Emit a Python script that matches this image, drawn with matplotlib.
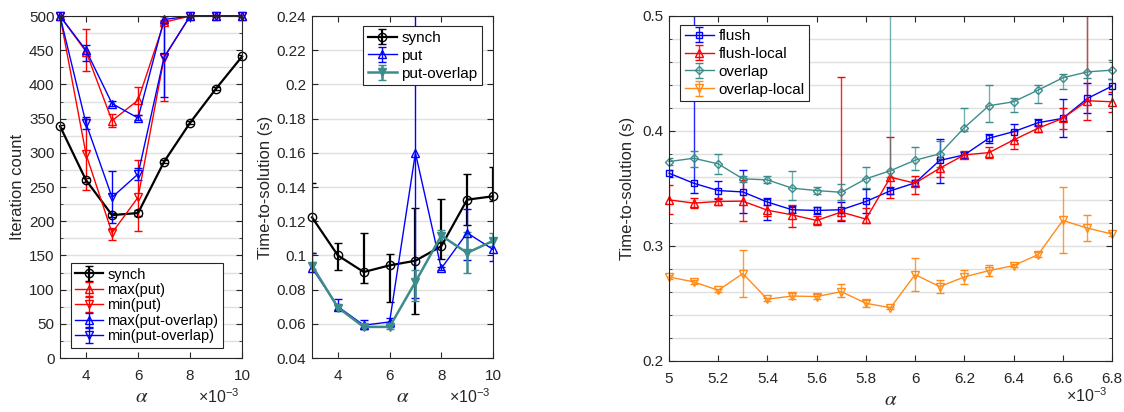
import matplotlib
matplotlib.use("Agg")
import matplotlib.pyplot as plt
import numpy as np
from matplotlib.ticker import MultipleLocator

plt.rcParams['font.family'] = ['Liberation Sans', 'DejaVu Sans']
plt.rcParams['mathtext.fontset'] = 'stix'

# ---------------- data: left panel (iteration count) ----------------
alpha_it = [3, 4, 5, 6, 7, 8, 9, 10]

it_synch = [339, 260, 209, 212, 287, 344, 394, 441]
it_synch_lo = [337, 257, 206, 208, 285, 342, 392, 439]
it_synch_hi = [341, 263, 212, 216, 289, 346, 396, 443]

it_max_put = [500, 448, 347, 377, 491, 500, 500, 500]
it_max_put_lo = [500, 419, 338, 355, 489, 500, 500, 500]
it_max_put_hi = [500, 481, 357, 396, 494, 500, 500, 500]

it_min_put = [500, 298, 183, 235, 439, 500, 500, 500]
it_min_put_lo = [500, 246, 172, 186, 376, 500, 500, 500]
it_min_put_hi = [500, 350, 190, 289, 500, 500, 500, 500]

it_max_ov = [500, 450, 372, 351, 495, 500, 500, 500]
it_max_ov_lo = [500, 435, 368, 348, 493, 500, 500, 500]
it_max_ov_hi = [500, 458, 376, 355, 500, 500, 500, 500]

it_min_ov = [500, 343, 235, 269, 440, 500, 500, 500]
it_min_ov_lo = [500, 335, 198, 261, 382, 500, 500, 500]
it_min_ov_hi = [500, 352, 273, 278, 500, 500, 500, 500]

# ---------------- data: middle panel (time, small alpha) ----------------
t_synch = [0.1223, 0.1000, 0.0903, 0.0942, 0.0969, 0.1054, 0.1326, 0.1346]
t_synch_lo = [0.1015, 0.0916, 0.0838, 0.0728, 0.0660, 0.0977, 0.1180, 0.1316]
t_synch_hi = [0.1423, 0.1074, 0.1129, 0.1008, 0.1280, 0.1330, 0.1476, 0.1520]

t_put = [0.0926, 0.0701, 0.0592, 0.0611, 0.1600, 0.0924, 0.1132, 0.1035]
t_put_lo = [0.0904, 0.0683, 0.0569, 0.0579, 0.0750, 0.0915, 0.0976, 0.0965]
t_put_hi = [0.1016, 0.0745, 0.0623, 0.0637, 0.2600, 0.0935, 0.1272, 0.1080]

t_ov = [0.0940, 0.0695, 0.0582, 0.0582, 0.0845, 0.1116, 0.1015, 0.1085]
t_ov_lo = [0.0920, 0.0680, 0.0570, 0.0570, 0.0733, 0.1080, 0.0899, 0.1054]
t_ov_hi = [0.0960, 0.0710, 0.0595, 0.0595, 0.0915, 0.1150, 0.1136, 0.1133]

# ---------------- data: right panel (time, fine alpha) ----------------
alpha_r = [5.0, 5.1, 5.2, 5.3, 5.4, 5.5, 5.6, 5.7, 5.8, 5.9,
           6.0, 6.1, 6.2, 6.3, 6.4, 6.5, 6.6, 6.7, 6.8]

flush = [0.3633, 0.3546, 0.3482, 0.3470, 0.3382, 0.3315, 0.3309, 0.3315, 0.3387, 0.3480,
         0.3549, 0.3744, 0.3792, 0.3937, 0.3994, 0.4072, 0.4110, 0.4283, 0.4390]
flush_lo = [0.3600, 0.3460, 0.3408, 0.3286, 0.3229, 0.3285, 0.3280, 0.3220, 0.3286, 0.3450,
            0.3520, 0.3550, 0.3765, 0.3897, 0.3920, 0.4045, 0.3950, 0.4159, 0.4325]
flush_hi = [0.3660, 0.6200, 0.3567, 0.3660, 0.3420, 0.3345, 0.3340, 0.3380, 0.3497, 0.3510,
            0.3578, 0.3930, 0.3820, 0.3977, 0.4065, 0.4100, 0.4275, 0.4419, 0.4455]

flush_local = [0.3401, 0.3373, 0.3387, 0.3390, 0.3311, 0.3271, 0.3222, 0.3295, 0.3234, 0.3598,
               0.3546, 0.3676, 0.3792, 0.3812, 0.3922, 0.4024, 0.4110, 0.4263, 0.4254]
flush_local_lo = [0.3276, 0.3333, 0.3357, 0.3214, 0.3260, 0.3165, 0.3180, 0.3229, 0.3200, 0.3416,
                  0.3453, 0.3600, 0.3762, 0.3762, 0.3847, 0.3994, 0.4015, 0.4096, 0.4168]
flush_local_hi = [0.3526, 0.3413, 0.3417, 0.3570, 0.3360, 0.3359, 0.3260, 0.4470, 0.3330, 0.3947,
                  0.3612, 0.3755, 0.3822, 0.3862, 0.3997, 0.4054, 0.4197, 0.6200, 0.4340]

overlap = [0.3734, 0.3763, 0.3714, 0.3584, 0.3575, 0.3503, 0.3482, 0.3467, 0.3584, 0.3655,
           0.3746, 0.3801, 0.4029, 0.4220, 0.4254, 0.4356, 0.4462, 0.4514, 0.4529]
overlap_lo = [0.3700, 0.3690, 0.3627, 0.3555, 0.3545, 0.3400, 0.3455, 0.3398, 0.3500, 0.3600,
              0.3660, 0.3688, 0.3997, 0.4080, 0.4168, 0.4245, 0.4369, 0.4460, 0.4450]
overlap_hi = [0.3768, 0.3830, 0.3800, 0.3610, 0.3605, 0.3654, 0.3510, 0.3538, 0.3690, 0.6200,
              0.3865, 0.3913, 0.4203, 0.4400, 0.4285, 0.4398, 0.4493, 0.6200, 0.4616]

overlap_local = [0.2731, 0.2688, 0.2615, 0.2760, 0.2537, 0.2565, 0.2560, 0.2603, 0.2502, 0.2463,
                 0.2751, 0.2647, 0.2731, 0.2786, 0.2829, 0.2925, 0.3222, 0.3156, 0.3104]
overlap_local_lo = [0.2716, 0.2673, 0.2600, 0.2555, 0.2522, 0.2535, 0.2535, 0.2554, 0.2472, 0.2455,
                    0.2607, 0.2587, 0.2673, 0.2741, 0.2814, 0.2905, 0.2939, 0.3045, 0.3089]
overlap_local_hi = [0.2746, 0.2703, 0.2630, 0.2964, 0.2552, 0.2595, 0.2585, 0.2666, 0.2532, 0.2471,
                    0.2896, 0.2705, 0.2793, 0.2831, 0.2844, 0.2945, 0.3512, 0.3268, 0.3119]

TEAL = '#3d8c8c'
ORANGE = '#ff8c1a'
GRID = '#e0e0e0'
AX = '#262626'


def yerr(y, lo, hi):
    y = np.array(y)
    return [y - np.array(lo), np.array(hi) - y]


def eb(ax, x, y, lo, hi, color, marker, label, lw=1.0, ms=6, fill=False, alpha=1.0):
    c = ax.errorbar(x, y, yerr=yerr(y, lo, hi), color=color, marker=marker,
                    markersize=ms, markerfacecolor=(color if fill else 'none'),
                    markeredgecolor=color, markeredgewidth=1.0, linewidth=lw,
                    elinewidth=lw, capsize=3, capthick=lw, label=label)
    c[0].set_clip_on(False)
    for part in c[2]:
        part.set_alpha(alpha)
    return c


def style(ax):
    for s in ax.spines.values():
        s.set_color(AX)
        s.set_linewidth(0.8)
    ax.tick_params(which='both', direction='in', top=True, right=True,
                   colors=AX, labelsize=11, labelcolor=AX)
    ax.tick_params(axis='x', which='major', pad=8)
    ax.tick_params(axis='y', which='major', pad=4)
    ax.tick_params(which='major', length=4)
    ax.tick_params(which='minor', length=2.5)
    ax.set_axisbelow(True)


def legend(ax, spacing, size=11, **kw):
    leg = ax.legend(fontsize=size, frameon=True, fancybox=False, edgecolor=AX,
                    framealpha=1, handlelength=1.9, borderpad=0.3,
                    labelspacing=spacing, handletextpad=0.3, borderaxespad=0, **kw)
    leg.get_frame().set_linewidth(0.8)
    return leg


def offset_label(ax, x=0.985):
    ax.text(x, -0.132, r'$\mathregular{\times10^{-3}}$', transform=ax.transAxes,
            ha='right', va='baseline', fontsize=11.5, color=AX)


fig = plt.figure(figsize=(11.24, 4.12), dpi=100)

# ---------------- left ----------------
ax1 = fig.add_axes([0.0534, 0.131, 0.162, 0.830])
eb(ax1, alpha_it, it_synch, it_synch_lo, it_synch_hi, 'k', 'o', 'synch', lw=1.6)
eb(ax1, alpha_it, it_max_put, it_max_put_lo, it_max_put_hi, 'r', '^', 'max(put)')
eb(ax1, alpha_it, it_min_put, it_min_put_lo, it_min_put_hi, 'r', 'v', 'min(put)')
eb(ax1, alpha_it, it_max_ov, it_max_ov_lo, it_max_ov_hi, 'b', '^', 'max(put-overlap)')
eb(ax1, alpha_it, it_min_ov, it_min_ov_lo, it_min_ov_hi, 'b', 'v', 'min(put-overlap)')
ax1.set_xlim(3, 10)
ax1.set_ylim(0, 500)
ax1.set_xticks([4, 6, 8, 10])
ax1.yaxis.set_major_locator(MultipleLocator(50))
ax1.yaxis.set_minor_locator(MultipleLocator(25))
ax1.grid(True, axis='y', which='both', color=GRID, linewidth=1.0)
ax1.set_ylabel('Iteration count', fontsize=12, color=AX, labelpad=3)
ax1.set_xlabel(r'$\alpha$', fontsize=15, color=AX, labelpad=3, x=0.45)
offset_label(ax1)
legend(ax1, 0.1, size=10.5, loc='lower left', bbox_to_anchor=(0.06, 0.03))
style(ax1)

# ---------------- middle ----------------
ax2 = fig.add_axes([0.2776, 0.131, 0.161, 0.830])
eb(ax2, alpha_it, t_synch, t_synch_lo, t_synch_hi, 'k', 'o', 'synch', lw=1.6)
eb(ax2, alpha_it, t_put, t_put_lo, t_put_hi, 'b', '^', 'put')
eb(ax2, alpha_it, t_ov, t_ov_lo, t_ov_hi, TEAL, 'v', 'put-overlap', lw=1.8, fill=True)
ax2.set_xlim(3, 10)
ax2.set_ylim(0.04, 0.24)
ax2.set_xticks([4, 6, 8, 10])
ax2.set_yticks(np.arange(0.04, 0.2401, 0.02))
ax2.set_yticklabels(['0.04', '0.06', '0.08', '0.1', '0.12', '0.14', '0.16', '0.18',
                     '0.2', '0.22', '0.24'])
ax2.grid(True, axis='y', which='major', color=GRID, linewidth=1.0)
ax2.set_ylabel('Time-to-solution (s)', fontsize=12, color=AX, labelpad=3)
ax2.set_xlabel(r'$\alpha$', fontsize=15, color=AX, labelpad=3, x=0.5)
offset_label(ax2)
legend(ax2, 0.25, loc='upper right', bbox_to_anchor=(0.94, 0.97))
style(ax2)

# ---------------- right ----------------
ax3 = fig.add_axes([0.5952, 0.1238, 0.3941, 0.8374])
eb(ax3, alpha_r, flush, flush_lo, flush_hi, 'b', 's', 'flush', ms=4.5, alpha=0.85)
eb(ax3, alpha_r, flush_local, flush_local_lo, flush_local_hi, 'r', '^', 'flush-local', ms=6, alpha=0.85)
eb(ax3, alpha_r, overlap, overlap_lo, overlap_hi, TEAL, 'D', 'overlap', ms=4.5, alpha=0.7)
eb(ax3, alpha_r, overlap_local, overlap_local_lo, overlap_local_hi, ORANGE, 'v', 'overlap-local', ms=5.5, alpha=0.85)
ax3.set_xlim(5, 6.8)
ax3.set_ylim(0.2, 0.5)
ax3.set_xticks(np.arange(5.0, 6.801, 0.2))
ax3.set_xticklabels(['5', '5.2', '5.4', '5.6', '5.8', '6', '6.2', '6.4', '6.6', '6.8'])
ax3.set_yticks([0.2, 0.3, 0.4, 0.5])
ax3.set_yticklabels(['0.2', '0.3', '0.4', '0.5'])
ax3.yaxis.set_minor_locator(MultipleLocator(0.02))
ax3.grid(True, axis='y', which='both', color=GRID, linewidth=1.0)
ax3.set_ylabel('Time-to-solution (s)', fontsize=12, color=AX, labelpad=5)
ax3.set_xlabel(r'$\alpha$', fontsize=15, color=AX, labelpad=3)
ax3.text(0.99, -0.12, r'$\mathregular{\times10^{-3}}$', transform=ax3.transAxes,
         ha='right', va='baseline', fontsize=11.5, color=AX)
legend(ax3, 0.25, loc='upper left', bbox_to_anchor=(0.025, 0.975))
style(ax3)

fig.savefig('out.png', dpi=100)
